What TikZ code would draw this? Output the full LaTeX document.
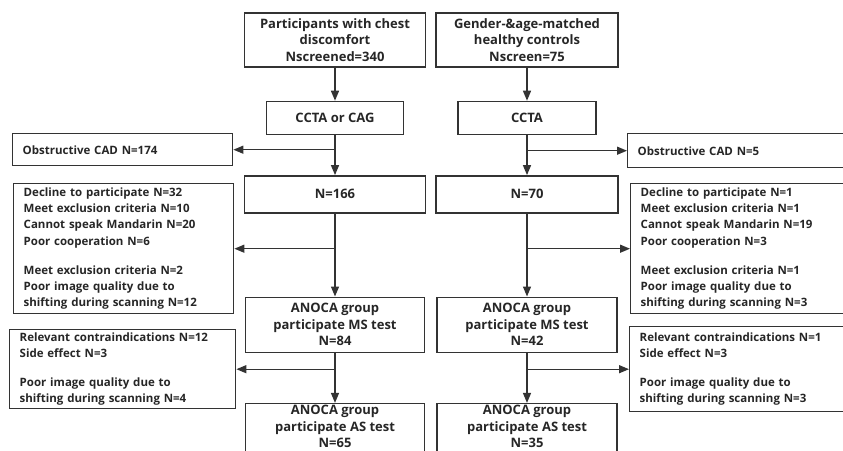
\documentclass[tikz,border=0pt]{standalone}
\usepackage{fontspec}
\setmainfont{Open Sans}
\usetikzlibrary{positioning,arrows.meta}

\begin{document}
\begin{tikzpicture}[x=1pt, y=-1pt,
    every node/.style={text=black!85},
    mainbox/.style={draw=black!80, line width=1.4pt, align=center, inner sep=0pt,
        font=\bfseries\fontsize{13}{16.5}\selectfont},
    sidebox/.style={draw=black!80, line width=1.4pt, align=left, anchor=north west,
        inner xsep=10pt, inner ysep=0pt, font=\bfseries\fontsize{11.5}{16.2}\selectfont},
    flow/.style={draw=black!80, line width=1.4pt, -{Triangle[length=10pt,width=8pt]}}]
    \clip (0,0) rectangle (843,450);

    % study arm
    \node [mainbox, minimum width=181pt, minimum height=54pt] (scrL) at (335,40)
        {Participants with chest\\discomfort\\Nscreened=340};
    \node [mainbox, minimum width=137pt, minimum height=33pt, below=33pt of scrL] (ctL) {CCTA or CAG};
    \node [mainbox, minimum width=181pt, minimum height=37pt, below=40pt of ctL] (nL) {N=166};
    \node [mainbox, minimum width=179pt, minimum height=55pt, below=83pt of nL] (msL)
        {ANOCA group\\participate MS test\\N=84};
    \node [mainbox, minimum width=179pt, minimum height=58pt, text depth=12pt, below=50pt of msL] (asL)
        {ANOCA group\\participate AS test\\N=65};

    % control arm
    \node [mainbox, minimum width=182pt, minimum height=54pt] (scrR) at (527,40)
        {Gender-\&age-matched\\healthy controls\\Nscreen=75};
    \node [mainbox, minimum width=138pt, minimum height=33pt, below=33pt of scrR] (ctR) {CCTA};
    \node [mainbox, minimum width=182pt, minimum height=37pt, below=40pt of ctR] (nR) {N=70};
    \node [mainbox, minimum width=180pt, minimum height=55pt, below=83pt of nR] (msR)
        {ANOCA group\\participate MS test\\N=42};
    \node [mainbox, minimum width=180pt, minimum height=58pt, text depth=12pt, below=50pt of msR] (asR)
        {ANOCA group\\participate AS test\\N=35};

    % exclusions
    \node [sidebox, text width=200pt, minimum height=32pt] (obsL) at (12,133) {Obstructive CAD N=174};
    \node [sidebox, text width=220pt, minimum height=34pt] (obsR) at (627,133) {Obstructive CAD N=5};
    \node [sidebox, text width=200pt, minimum height=130pt] (exL1) at (13,183)
        {Decline to participate N=32\\Meet exclusion criteria N=10\\Cannot speak Mandarin N=20\\
        Poor cooperation N=6\\[13pt]Meet exclusion criteria N=2\\Poor image quality due to\\
        shifting during scanning N=12};
    \node [sidebox, text width=220pt, minimum height=130pt] (exR1) at (630,183)
        {Decline to participate N=1\\Meet exclusion criteria N=1\\Cannot speak Mandarin N=19\\
        Poor cooperation N=3\\[13pt]Meet exclusion criteria N=1\\Poor image quality due to\\
        shifting during scanning N=3};
    \node [sidebox, text width=206pt, minimum height=79pt] (exL2) at (9,329)
        {Relevant contraindications N=12\\Side effect N=3\\[13pt]Poor image quality due to\\
        shifting during scanning N=4};
    \node [sidebox, text width=220pt, minimum height=85pt] (exR2) at (629,326)
        {Relevant contraindications N=1\\Side effect N=3\\[13pt]Poor image quality due to\\
        shifting during scanning N=3};

    \draw [flow] (scrL) -- (ctL);
    \draw [flow] (ctL) -- (nL);
    \draw [flow] (nL) -- (msL);
    \draw [flow] (msL) -- (asL);
    \draw [flow] (scrR) -- (ctR);
    \draw [flow] (ctR) -- (nR);
    \draw [flow] (nR) -- (msR);
    \draw [flow] (msR) -- (asR);

    \draw [flow] (ctL.south |- obsL.east) -- (obsL.east);
    \draw [flow] (nL.south |- exL1.east) -- (exL1.east);
    \draw [flow] (msL.south |- exL2.east) -- (exL2.east);
    \draw [flow] (ctR.south |- obsR.west) -- (obsR.west);
    \draw [flow] (nR.south |- exR1.west) -- (exR1.west);
    \draw [flow] (msR.south |- exR2.west) -- (exR2.west);
\end{tikzpicture}
\end{document}
